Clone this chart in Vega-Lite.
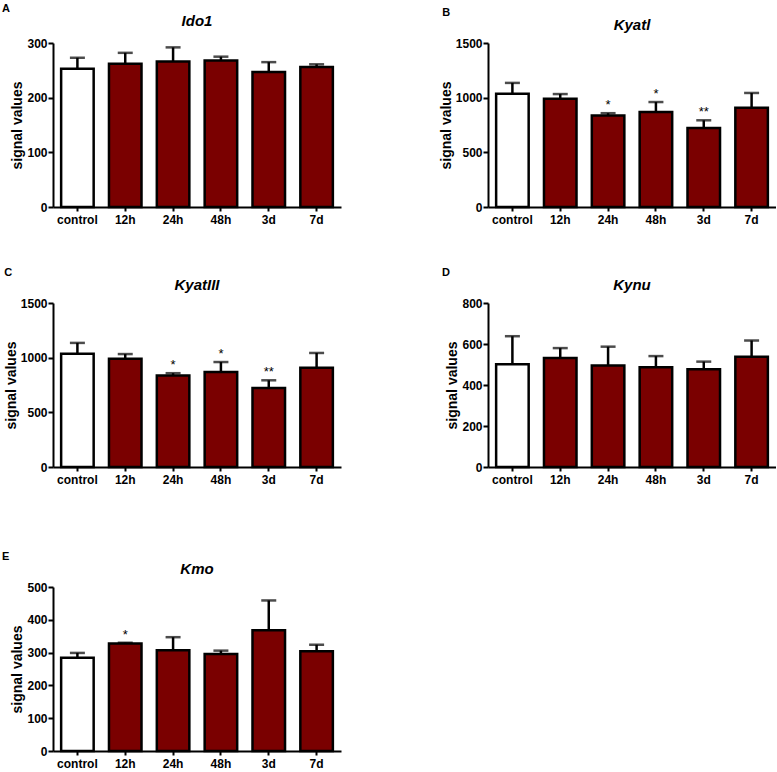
{
  "$schema": "https://vega.github.io/schema/vega-lite/v6.json",
  "padding": {"left": 1, "top": 3, "right": 0, "bottom": 0},
  "autosize": {"type": "pad"},
  "datasets": {
    "d": [
      {"panel": "A", "time": "control", "mean": 253, "hi": 273, "sig": ""},
      {"panel": "A", "time": "12h", "mean": 262, "hi": 282, "sig": ""},
      {"panel": "A", "time": "24h", "mean": 266, "hi": 292, "sig": ""},
      {"panel": "A", "time": "48h", "mean": 268, "hi": 275, "sig": ""},
      {"panel": "A", "time": "3d", "mean": 247, "hi": 265, "sig": ""},
      {"panel": "A", "time": "7d", "mean": 256, "hi": 261, "sig": ""},
      {"panel": "B", "time": "control", "mean": 1035, "hi": 1135, "sig": ""},
      {"panel": "B", "time": "12h", "mean": 990, "hi": 1033, "sig": ""},
      {"panel": "B", "time": "24h", "mean": 836, "hi": 858, "sig": "*"},
      {"panel": "B", "time": "48h", "mean": 868, "hi": 960, "sig": "*"},
      {"panel": "B", "time": "3d", "mean": 722, "hi": 793, "sig": "**"},
      {"panel": "B", "time": "7d", "mean": 908, "hi": 1043, "sig": ""},
      {"panel": "C", "time": "control", "mean": 1035, "hi": 1135, "sig": ""},
      {"panel": "C", "time": "12h", "mean": 990, "hi": 1033, "sig": ""},
      {"panel": "C", "time": "24h", "mean": 836, "hi": 858, "sig": "*"},
      {"panel": "C", "time": "48h", "mean": 868, "hi": 960, "sig": "*"},
      {"panel": "C", "time": "3d", "mean": 722, "hi": 793, "sig": "**"},
      {"panel": "C", "time": "7d", "mean": 908, "hi": 1043, "sig": ""},
      {"panel": "D", "time": "control", "mean": 501, "hi": 638, "sig": ""},
      {"panel": "D", "time": "12h", "mean": 532, "hi": 580, "sig": ""},
      {"panel": "D", "time": "24h", "mean": 495, "hi": 587, "sig": ""},
      {"panel": "D", "time": "48h", "mean": 486, "hi": 541, "sig": ""},
      {"panel": "D", "time": "3d", "mean": 477, "hi": 514, "sig": ""},
      {"panel": "D", "time": "7d", "mean": 538, "hi": 617, "sig": ""},
      {"panel": "E", "time": "control", "mean": 284, "hi": 299, "sig": ""},
      {"panel": "E", "time": "12h", "mean": 328, "hi": 330, "sig": "*"},
      {"panel": "E", "time": "24h", "mean": 307, "hi": 347, "sig": ""},
      {"panel": "E", "time": "48h", "mean": 296, "hi": 306, "sig": ""},
      {"panel": "E", "time": "3d", "mean": 368, "hi": 459, "sig": ""},
      {"panel": "E", "time": "7d", "mean": 304, "hi": 324, "sig": ""}
    ]
  },
  "columns": 2,
  "align": "each",
  "spacing": {"row": 42, "column": 98},
  "concat": [
    {
      "title": {"text": "A", "anchor": "start", "dx": -9, "fontSize": 11, "fontStyle": "normal", "fontWeight": "bold", "offset": 0},
      "vconcat": [{
        "title": {"text": "Ido1"},
        "width": 288, "height": 164,
        "data": {"name": "d"},
        "transform": [{"filter": "datum.panel === 'A'"}],
        "encoding": {"x": {"field": "time", "type": "nominal", "title": null, "sort": ["control", "12h", "24h", "48h", "3d", "7d"], "scale": {"paddingInner": 0.32, "paddingOuter": 0.17}}},
        "layer": [
          {"mark": {"type": "rule", "strokeWidth": 2.5, "color": "black"}, "encoding": {"y": {"field": "mean", "type": "quantitative", "title": "signal values", "scale": {"domain": [0, 300], "nice": false}, "axis": {"values": [0, 100, 200, 300]}}, "y2": {"field": "hi"}}},
          {"mark": {"type": "bar", "stroke": "black", "strokeWidth": 2.5}, "encoding": {"y": {"field": "mean", "type": "quantitative", "title": "signal values", "axis": {"values": [0, 100, 200, 300]}}, "color": {"condition": {"test": "datum.time === 'control'", "value": "white"}, "value": "#7a0000"}}},
          {"mark": {"type": "tick", "thickness": 2.5, "size": 15, "color": "black"}, "encoding": {"y": {"field": "hi", "type": "quantitative", "title": "signal values", "axis": {"values": [0, 100, 200, 300]}}}},
          {"mark": {"type": "text", "dy": -8, "fontSize": 13, "color": "black"}, "encoding": {"y": {"field": "hi", "type": "quantitative", "title": "signal values", "axis": {"values": [0, 100, 200, 300]}}, "text": {"field": "sig"}}}
        ]
      }]
    },
    {
      "title": {"text": "B", "anchor": "start", "dx": 3, "fontSize": 11, "fontStyle": "normal", "fontWeight": "bold", "offset": 0},
      "vconcat": [{
        "title": {"text": "Kyatl"},
        "width": 288, "height": 164,
        "data": {"name": "d"},
        "transform": [{"filter": "datum.panel === 'B'"}],
        "encoding": {"x": {"field": "time", "type": "nominal", "title": null, "sort": ["control", "12h", "24h", "48h", "3d", "7d"], "scale": {"paddingInner": 0.32, "paddingOuter": 0.17}}},
        "layer": [
          {"mark": {"type": "rule", "strokeWidth": 2.5, "color": "black"}, "encoding": {"y": {"field": "mean", "type": "quantitative", "title": "signal values", "scale": {"domain": [0, 1500], "nice": false}, "axis": {"values": [0, 500, 1000, 1500]}}, "y2": {"field": "hi"}}},
          {"mark": {"type": "bar", "stroke": "black", "strokeWidth": 2.5}, "encoding": {"y": {"field": "mean", "type": "quantitative", "title": "signal values", "axis": {"values": [0, 500, 1000, 1500]}}, "color": {"condition": {"test": "datum.time === 'control'", "value": "white"}, "value": "#7a0000"}}},
          {"mark": {"type": "tick", "thickness": 2.5, "size": 15, "color": "black"}, "encoding": {"y": {"field": "hi", "type": "quantitative", "title": "signal values", "axis": {"values": [0, 500, 1000, 1500]}}}},
          {"mark": {"type": "text", "dy": -8, "fontSize": 13, "color": "black"}, "encoding": {"y": {"field": "hi", "type": "quantitative", "title": "signal values", "axis": {"values": [0, 500, 1000, 1500]}}, "text": {"field": "sig"}}}
        ]
      }]
    },
    {
      "title": {"text": "C", "anchor": "start", "dx": 0, "fontSize": 11, "fontStyle": "normal", "fontWeight": "bold", "offset": 0},
      "vconcat": [{
        "title": {"text": "KyatIII"},
        "width": 288, "height": 164,
        "data": {"name": "d"},
        "transform": [{"filter": "datum.panel === 'C'"}],
        "encoding": {"x": {"field": "time", "type": "nominal", "title": null, "sort": ["control", "12h", "24h", "48h", "3d", "7d"], "scale": {"paddingInner": 0.32, "paddingOuter": 0.17}}},
        "layer": [
          {"mark": {"type": "rule", "strokeWidth": 2.5, "color": "black"}, "encoding": {"y": {"field": "mean", "type": "quantitative", "title": "signal values", "scale": {"domain": [0, 1500], "nice": false}, "axis": {"values": [0, 500, 1000, 1500]}}, "y2": {"field": "hi"}}},
          {"mark": {"type": "bar", "stroke": "black", "strokeWidth": 2.5}, "encoding": {"y": {"field": "mean", "type": "quantitative", "title": "signal values", "axis": {"values": [0, 500, 1000, 1500]}}, "color": {"condition": {"test": "datum.time === 'control'", "value": "white"}, "value": "#7a0000"}}},
          {"mark": {"type": "tick", "thickness": 2.5, "size": 15, "color": "black"}, "encoding": {"y": {"field": "hi", "type": "quantitative", "title": "signal values", "axis": {"values": [0, 500, 1000, 1500]}}}},
          {"mark": {"type": "text", "dy": -8, "fontSize": 13, "color": "black"}, "encoding": {"y": {"field": "hi", "type": "quantitative", "title": "signal values", "axis": {"values": [0, 500, 1000, 1500]}}, "text": {"field": "sig"}}}
        ]
      }]
    },
    {
      "title": {"text": "D", "anchor": "start", "dx": -4, "fontSize": 11, "fontStyle": "normal", "fontWeight": "bold", "offset": 0},
      "vconcat": [{
        "title": {"text": "Kynu"},
        "width": 288, "height": 164,
        "data": {"name": "d"},
        "transform": [{"filter": "datum.panel === 'D'"}],
        "encoding": {"x": {"field": "time", "type": "nominal", "title": null, "sort": ["control", "12h", "24h", "48h", "3d", "7d"], "scale": {"paddingInner": 0.32, "paddingOuter": 0.17}}},
        "layer": [
          {"mark": {"type": "rule", "strokeWidth": 2.5, "color": "black"}, "encoding": {"y": {"field": "mean", "type": "quantitative", "title": "signal values", "scale": {"domain": [0, 800], "nice": false}, "axis": {"values": [0, 200, 400, 600, 800]}}, "y2": {"field": "hi"}}},
          {"mark": {"type": "bar", "stroke": "black", "strokeWidth": 2.5}, "encoding": {"y": {"field": "mean", "type": "quantitative", "title": "signal values", "axis": {"values": [0, 200, 400, 600, 800]}}, "color": {"condition": {"test": "datum.time === 'control'", "value": "white"}, "value": "#7a0000"}}},
          {"mark": {"type": "tick", "thickness": 2.5, "size": 15, "color": "black"}, "encoding": {"y": {"field": "hi", "type": "quantitative", "title": "signal values", "axis": {"values": [0, 200, 400, 600, 800]}}}},
          {"mark": {"type": "text", "dy": -8, "fontSize": 13, "color": "black"}, "encoding": {"y": {"field": "hi", "type": "quantitative", "title": "signal values", "axis": {"values": [0, 200, 400, 600, 800]}}, "text": {"field": "sig"}}}
        ]
      }]
    },
    {
      "title": {"text": ["", "E"], "lineHeight": 24, "anchor": "start", "dx": -9, "fontSize": 11, "fontStyle": "normal", "fontWeight": "bold", "offset": 0},
      "vconcat": [{
        "title": {"text": "Kmo"},
        "width": 288, "height": 164,
        "data": {"name": "d"},
        "transform": [{"filter": "datum.panel === 'E'"}],
        "encoding": {"x": {"field": "time", "type": "nominal", "title": null, "sort": ["control", "12h", "24h", "48h", "3d", "7d"], "scale": {"paddingInner": 0.32, "paddingOuter": 0.17}}},
        "layer": [
          {"mark": {"type": "rule", "strokeWidth": 2.5, "color": "black"}, "encoding": {"y": {"field": "mean", "type": "quantitative", "title": "signal values", "scale": {"domain": [0, 500], "nice": false}, "axis": {"values": [0, 100, 200, 300, 400, 500]}}, "y2": {"field": "hi"}}},
          {"mark": {"type": "bar", "stroke": "black", "strokeWidth": 2.5}, "encoding": {"y": {"field": "mean", "type": "quantitative", "title": "signal values", "axis": {"values": [0, 100, 200, 300, 400, 500]}}, "color": {"condition": {"test": "datum.time === 'control'", "value": "white"}, "value": "#7a0000"}}},
          {"mark": {"type": "tick", "thickness": 2.5, "size": 15, "color": "black"}, "encoding": {"y": {"field": "hi", "type": "quantitative", "title": "signal values", "axis": {"values": [0, 100, 200, 300, 400, 500]}}}},
          {"mark": {"type": "text", "dy": -8, "fontSize": 13, "color": "black"}, "encoding": {"y": {"field": "hi", "type": "quantitative", "title": "signal values", "axis": {"values": [0, 100, 200, 300, 400, 500]}}, "text": {"field": "sig"}}}
        ]
      }]
    }
  ],
  "config": {
    "view": {"stroke": null},
    "font": "Liberation Sans",
    "title": {"fontSize": 15, "fontWeight": "bold", "fontStyle": "italic", "color": "black", "offset": 4},
    "axis": {"domainColor": "black", "domainWidth": 2, "tickColor": "black", "tickWidth": 2, "labelColor": "black", "labelFontWeight": "bold", "labelFontSize": 12, "titleFontSize": 14, "titleFontWeight": "bold", "titleColor": "black", "grid": false, "labelFont": "Liberation Sans", "titleFont": "Liberation Sans"},
    "axisX": {"tickSize": 4, "labelAngle": 0, "labelPadding": 3},
    "axisY": {"tickSize": 5, "labelPadding": 1, "titlePadding": 2, "format": "d", "labelOverlap": false}
  }
}
